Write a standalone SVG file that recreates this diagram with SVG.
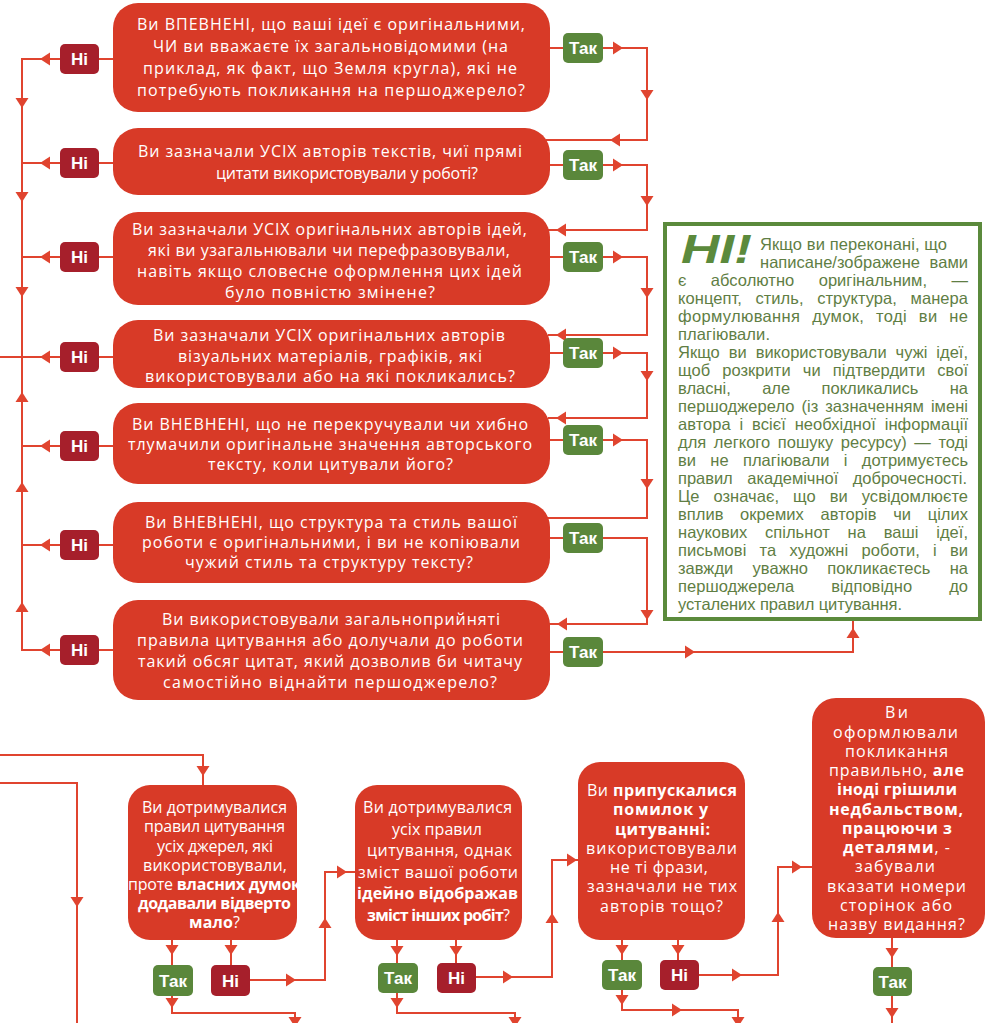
<svg xmlns="http://www.w3.org/2000/svg" width="986" height="1023" viewBox="0 0 986 1023">
<defs>
<style>
.n{fill:#D83A27}
.ni{fill:#A61F2B}
.tk{fill:#5A873B}
.ln{fill:none;stroke:#E0442F;stroke-width:2}
.ah{fill:#E0442F}
.t{font-family:"Open Sans","Noto Sans",sans-serif;font-size:16px;fill:#fff;text-anchor:middle}
.b{font-weight:700}
.l{font-family:"Liberation Sans",Arial,sans-serif;font-weight:700;font-size:17px;fill:#fff;text-anchor:middle}
.g{font-family:"Liberation Sans",Arial,sans-serif;font-size:16.5px;fill:#5F7E44}
.gb{fill:#fff;stroke:#5B8A3C;stroke-width:4}
</style>
<path id="ah" class="ah" d="M0,0 L-10,-6.5 L-10,6.5 Z"/>
</defs>
<rect width="986" height="1023" fill="#fff"/>

<g id="connectors">
<path class="ln" d="M113,59 H22 V650 H113 M113,163 H22 M113,257 H22 M113,357 H0 M113,446 H22 M113,545 H22"/>
<use href="#ah" transform="translate(40,59) rotate(180)"/>
<use href="#ah" transform="translate(40,163) rotate(180)"/>
<use href="#ah" transform="translate(40,257) rotate(180)"/>
<use href="#ah" transform="translate(40,357) rotate(180)"/>
<use href="#ah" transform="translate(40,446) rotate(180)"/>
<use href="#ah" transform="translate(40,545) rotate(180)"/>
<use href="#ah" transform="translate(40,650) rotate(180)"/>
<use href="#ah" transform="translate(22,108) rotate(90)"/>
<use href="#ah" transform="translate(22,202) rotate(90)"/>
<use href="#ah" transform="translate(22,297) rotate(90)"/>
<use href="#ah" transform="translate(22,392) rotate(-90)"/>
<use href="#ah" transform="translate(22,482) rotate(-90)"/>
<use href="#ah" transform="translate(22,602) rotate(-90)"/>
<path class="ln" d="M548,48 H647 V140 H546"/>
<path class="ln" d="M548,165 H647 V230 H546"/>
<path class="ln" d="M548,257 H647 V335 H548"/>
<path class="ln" d="M548,353 H647 V418 H548"/>
<path class="ln" d="M548,440 H647 V518 H546"/>
<path class="ln" d="M548,538 H647 V624 H549"/>
<path class="ln" d="M548,652 H853 V621"/>
<use href="#ah" transform="translate(623,48)"/>
<use href="#ah" transform="translate(623,165)"/>
<use href="#ah" transform="translate(623,257)"/>
<use href="#ah" transform="translate(623,353)"/>
<use href="#ah" transform="translate(623,440)"/>
<use href="#ah" transform="translate(695,652)"/>
<use href="#ah" transform="translate(647,100) rotate(90)"/>
<use href="#ah" transform="translate(647,206) rotate(90)"/>
<use href="#ah" transform="translate(647,298) rotate(90)"/>
<use href="#ah" transform="translate(647,381) rotate(90)"/>
<use href="#ah" transform="translate(647,489) rotate(90)"/>
<use href="#ah" transform="translate(647,620) rotate(90)"/>
<use href="#ah" transform="translate(610,140) rotate(180)"/>
<use href="#ah" transform="translate(556,230) rotate(180)"/>
<use href="#ah" transform="translate(556,335) rotate(180)"/>
<use href="#ah" transform="translate(556,418) rotate(180)"/>
<use href="#ah" transform="translate(557,624) rotate(180)"/>
<use href="#ah" transform="translate(853,628) rotate(-90)"/>
<path class="ln" d="M0,755 H203 V785"/>
<path class="ln" d="M0,783 H77 V1023"/>
<use href="#ah" transform="translate(203,776) rotate(90)"/>
<use href="#ah" transform="translate(77,907) rotate(90)"/>
<path class="ln" d="M172,940 V965 M231,940 V965"/>
<use href="#ah" transform="translate(172,955) rotate(90)"/>
<use href="#ah" transform="translate(231,955) rotate(90)"/>
<path class="ln" d="M250,980 H325 V872 H355"/>
<use href="#ah" transform="translate(296,980)"/>
<use href="#ah" transform="translate(325,918) rotate(-90)"/>
<use href="#ah" transform="translate(347,872)"/>
<path class="ln" d="M172,996 V1013 H295 V1023"/>
<use href="#ah" transform="translate(172,1008) rotate(90)"/>
<use href="#ah" transform="translate(295,1027) rotate(90)"/>
<path class="ln" d="M397,940 V963 M456,940 V963"/>
<use href="#ah" transform="translate(397,956) rotate(90)"/>
<use href="#ah" transform="translate(456,956) rotate(90)"/>
<path class="ln" d="M476,977 H552 V860 H578"/>
<use href="#ah" transform="translate(513,977)"/>
<use href="#ah" transform="translate(552,913) rotate(-90)"/>
<use href="#ah" transform="translate(577,860)"/>
<path class="ln" d="M397,993 V1013 H515 V1023"/>
<use href="#ah" transform="translate(397,1008) rotate(90)"/>
<use href="#ah" transform="translate(515,1027) rotate(90)"/>
<path class="ln" d="M622,940 V960 M678,940 V960"/>
<use href="#ah" transform="translate(622,955) rotate(90)"/>
<use href="#ah" transform="translate(678,955) rotate(90)"/>
<path class="ln" d="M699,975 H778 V867 H812"/>
<use href="#ah" transform="translate(742,975)"/>
<use href="#ah" transform="translate(778,912) rotate(-90)"/>
<use href="#ah" transform="translate(802,867)"/>
<path class="ln" d="M622,990 V1010 H738 V1023"/>
<use href="#ah" transform="translate(622,1005) rotate(90)"/>
<use href="#ah" transform="translate(682,1010)"/>
<use href="#ah" transform="translate(738,1027) rotate(90)"/>
<path class="ln" d="M892,938 V967 M892,996 V1023"/>
<use href="#ah" transform="translate(892,958) rotate(90)"/>
<use href="#ah" transform="translate(892,1018) rotate(90)"/>
</g>

<g id="q1">
<rect class="n" x="113" y="3" width="437" height="109" rx="25"/>
<text class="t" x="331" y="30" textLength="388">Ви ВПЕВНЕНІ, що ваші ідеї є оригінальними,</text>
<text class="t" x="330.5" y="52" textLength="355">ЧИ ви вважаєте їх загальновідомими (на</text>
<text class="t" x="330" y="74" textLength="374">приклад, як факт, що Земля кругла), які не</text>
<text class="t" x="331" y="96" textLength="388">потребують покликання на першоджерело?</text>
</g>
<g id="q2">
<rect class="n" x="113" y="128" width="437" height="67" rx="25"/>
<text class="t" x="330" y="157" textLength="384">Ви зазначали УСІХ авторів текстів, чиї прямі</text>
<text class="t" x="347" y="179" textLength="262">цитати використовували у роботі?</text>
</g>
<g id="q3">
<rect class="n" x="113" y="212" width="437" height="93" rx="25"/>
<text class="t" x="329.5" y="235" textLength="395">Ви зазначали УСІХ оригінальних авторів ідей,</text>
<text class="t" x="329" y="256" textLength="362">які ви узагальнювали чи перефразовували,</text>
<text class="t" x="329.5" y="277" textLength="385">навіть якщо словесне оформлення цих ідей</text>
<text class="t" x="330" y="298" textLength="210">було повністю змінене?</text>
</g>
<g id="q4">
<rect class="n" x="113" y="320" width="437" height="68" rx="25"/>
<text class="t" x="329" y="341" textLength="352">Ви зазначали УСІХ оригінальних авторів</text>
<text class="t" x="330" y="361.5" textLength="304">візуальних матеріалів, графіків, які</text>
<text class="t" x="330" y="382" textLength="370">використовували або на які покликались?</text>
</g>
<g id="q5">
<rect class="n" x="113" y="403" width="437" height="81" rx="25"/>
<text class="t" x="330" y="430" textLength="396">Ви ВНЕВНЕНІ, що не перекручували чи хибно</text>
<text class="t" x="330" y="450" textLength="404">тлумачили оригінальне значення авторського</text>
<text class="t" x="330.5" y="470" textLength="245">тексту, коли цитували його?</text>
</g>
<g id="q6">
<rect class="n" x="113" y="502" width="437" height="81" rx="25"/>
<text class="t" x="331" y="528" textLength="372">Ви ВНЕВНЕНІ, що структура та стиль вашої</text>
<text class="t" x="331" y="548" textLength="378">роботи є оригінальними, і ви не копіювали</text>
<text class="t" x="329" y="568" textLength="288">чужий стиль та структуру тексту?</text>
</g>
<g id="q7">
<rect class="n" x="113" y="600" width="437" height="100" rx="25"/>
<text class="t" x="331" y="625" textLength="338">Ви використовували загальноприйняті</text>
<text class="t" x="330" y="646" textLength="386">правила цитування або долучали до роботи</text>
<text class="t" x="330" y="667" textLength="384">такий обсяг цитат, який дозволив би читачу</text>
<text class="t" x="330" y="688" textLength="334">самостійно віднайти першоджерело?</text>
</g>

<g id="ni-top">
<rect class="ni" x="60" y="44" width="39" height="30" rx="5"/><text class="l" x="79.5" y="65">Ні</text>
<rect class="ni" x="60" y="148" width="39" height="30" rx="5"/><text class="l" x="79.5" y="169">Ні</text>
<rect class="ni" x="60" y="242" width="39" height="30" rx="5"/><text class="l" x="79.5" y="263">Ні</text>
<rect class="ni" x="60" y="342" width="39" height="30" rx="5"/><text class="l" x="79.5" y="363">Ні</text>
<rect class="ni" x="60" y="431" width="39" height="30" rx="5"/><text class="l" x="79.5" y="452">Ні</text>
<rect class="ni" x="60" y="530" width="39" height="30" rx="5"/><text class="l" x="79.5" y="551">Ні</text>
<rect class="ni" x="60" y="635" width="39" height="30" rx="5"/><text class="l" x="79.5" y="656">Ні</text>
</g>
<g id="tak-top">
<rect class="tk" x="563" y="33" width="40" height="30" rx="5"/><text class="l" x="583" y="54">Так</text>
<rect class="tk" x="563" y="150" width="40" height="30" rx="5"/><text class="l" x="583" y="171">Так</text>
<rect class="tk" x="563" y="242" width="40" height="30" rx="5"/><text class="l" x="583" y="263">Так</text>
<rect class="tk" x="563" y="338" width="40" height="30" rx="5"/><text class="l" x="583" y="359">Так</text>
<rect class="tk" x="563" y="425" width="40" height="30" rx="5"/><text class="l" x="583" y="446">Так</text>
<rect class="tk" x="563" y="523" width="40" height="30" rx="5"/><text class="l" x="583" y="544">Так</text>
<rect class="tk" x="563" y="637" width="40" height="30" rx="5"/><text class="l" x="583" y="658">Так</text>
</g>

<g id="conclusion">
<rect class="gb" x="665" y="224" width="315" height="395"/>
<text x="681" y="263" font-family="Liberation Sans, Arial, sans-serif" font-size="41" font-weight="700" font-style="italic" fill="#5B8A3C" textLength="71" lengthAdjust="spacingAndGlyphs">НІ!</text>
<text class="g" x="760" y="250" textLength="187">Якщо ви переконані, що</text>
<text class="g" x="760" y="268" word-spacing="5" textLength="208">написане/зображене вами</text>
<text class="g" x="678" y="286" word-spacing="19.8" textLength="290">є абсолютно оригінальним, —</text>
<text class="g" x="678" y="304" word-spacing="8.9" textLength="290">концепт, стиль, структура, манера</text>
<text class="g" x="678" y="322" word-spacing="7" textLength="290">формулювання думок, тоді ви не</text>
<text class="g" x="678" y="340" textLength="92">плагіювали.</text>
<text class="g" x="678" y="358" word-spacing="4.4" textLength="290">Якщо ви використовували чужі ідеї,</text>
<text class="g" x="678" y="376" word-spacing="7.5" textLength="290">щоб розкрити чи підтвердити свої</text>
<text class="g" x="678" y="394" word-spacing="26.8" textLength="290">власні, але покликались на</text>
<text class="g" x="678" y="412" word-spacing="2.3" textLength="290">першоджерело (із зазначенням імені</text>
<text class="g" x="678" y="430" word-spacing="4.2" textLength="290">автора і всієї необхідної інформації</text>
<text class="g" x="678" y="448" word-spacing="3" textLength="290">для легкого пошуку ресурсу) — тоді</text>
<text class="g" x="678" y="466" word-spacing="9.7" textLength="290">ви не плагіювали і дотримуєтесь</text>
<text class="g" x="678" y="484" word-spacing="10" textLength="289">правил академічної доброчесності.</text>
<text class="g" x="678" y="502" word-spacing="9.4" textLength="290">Це означає, що ви усвідомлюєте</text>
<text class="g" x="678" y="520" word-spacing="12.1" textLength="290">вплив окремих авторів чи цілих</text>
<text class="g" x="678" y="538" word-spacing="13.2" textLength="290">наукових спільнот на ваші ідеї,</text>
<text class="g" x="678" y="556" word-spacing="8.6" textLength="290">письмові та художні роботи, і ви</text>
<text class="g" x="678" y="574" word-spacing="14.8" textLength="290">завжди уважно покликаєтесь на</text>
<text class="g" x="678" y="592" word-spacing="32.4" textLength="290">першоджерела відповідно до</text>
<text class="g" x="678" y="610" textLength="224">усталених правил цитування.</text>
</g>

<g id="b1">
<rect class="n" x="128" y="785" width="169" height="155" rx="22"/>
<text class="t" x="214.5" y="813" textLength="145">Ви дотримувалися</text>
<text class="t" x="214.5" y="832" textLength="141">правил цитування</text>
<text class="t" x="215" y="851.5" textLength="116">усіх джерел, які</text>
<text class="t" x="215" y="870.5" textLength="144">використовували,</text>
<text class="t" x="214.5" y="890" textLength="173">проте <tspan class="b">власних думок</tspan></text>
<text class="t b" x="214.5" y="909" textLength="153">додавали відверто</text>
<text class="t" x="214.5" y="928" textLength="51"><tspan class="b">мало</tspan>?</text>
</g>
<g id="b1-labels">
<rect class="tk" x="153" y="965" width="40" height="31" rx="5"/><text class="l" x="173" y="986.5">Так</text>
<rect class="ni" x="211" y="965" width="39" height="31" rx="5"/><text class="l" x="230.5" y="986.5">Ні</text>
</g>
<g id="b2">
<rect class="n" x="355" y="785" width="167" height="155" rx="22"/>
<text class="t" x="437.5" y="813" textLength="149">Ви дотримувалися</text>
<text class="t" x="437" y="834.5" textLength="90">усіх правил</text>
<text class="t" x="439.5" y="856" textLength="145">цитування, однак</text>
<text class="t" x="438" y="877.5" textLength="160">зміст вашої роботи</text>
<text class="t b" x="437.5" y="899" textLength="161">ідейно відображав</text>
<text class="t" x="438.5" y="920.5" textLength="143"><tspan class="b">зміст інших робіт</tspan>?</text>
</g>
<g id="b2-labels">
<rect class="tk" x="378" y="963" width="40" height="30" rx="5"/><text class="l" x="398" y="984">Так</text>
<rect class="ni" x="437" y="963" width="39" height="30" rx="5"/><text class="l" x="456.5" y="984">Ні</text>
</g>
<g id="b3">
<rect class="n" x="578" y="762" width="167" height="178" rx="22"/>
<text class="t" x="662" y="796" textLength="150">Ви <tspan class="b">припускалися</tspan></text>
<text class="t b" x="660.5" y="815" textLength="95">помилок у</text>
<text class="t b" x="662.5" y="835" textLength="95">цитуванні:</text>
<text class="t" x="661.5" y="854" textLength="151">використовували</text>
<text class="t" x="659" y="873" textLength="98">не ті фрази,</text>
<text class="t" x="662" y="892" textLength="150">зазначали не тих</text>
<text class="t" x="661.5" y="912" textLength="123">авторів тощо?</text>
</g>
<g id="b3-labels">
<rect class="tk" x="602" y="960" width="40" height="30" rx="5"/><text class="l" x="622" y="981">Так</text>
<rect class="ni" x="660" y="960" width="39" height="30" rx="5"/><text class="l" x="679.5" y="981">Ні</text>
</g>
<g id="b4">
<rect class="n" x="812" y="698" width="173" height="240" rx="24"/>
<text class="t" x="896.5" y="718" textLength="23">Ви</text>
<text class="t" x="895.5" y="737.5" textLength="125">оформлювали</text>
<text class="t" x="896.5" y="756.5" textLength="103">покликання</text>
<text class="t" x="896.5" y="776" textLength="135">правильно, <tspan class="b">але</tspan></text>
<text class="t b" x="897" y="795" textLength="120">іноді грішили</text>
<text class="t b" x="896" y="814.5" textLength="134">недбальством,</text>
<text class="t b" x="897" y="833.5" textLength="110">працюючи з</text>
<text class="t" x="896.5" y="853" textLength="107"><tspan class="b">деталями</tspan>, -</text>
<text class="t" x="895" y="872" textLength="80">забували</text>
<text class="t" x="896.5" y="891.5" textLength="139">вказати номери</text>
<text class="t" x="896" y="910.5" textLength="112">сторінок або</text>
<text class="t" x="896.5" y="930" textLength="137">назву видання?</text>
</g>
<g id="b4-labels">
<rect class="tk" x="873" y="967" width="39" height="29" rx="5"/><text class="l" x="892.5" y="987.5">Так</text>
</g>
</svg>
